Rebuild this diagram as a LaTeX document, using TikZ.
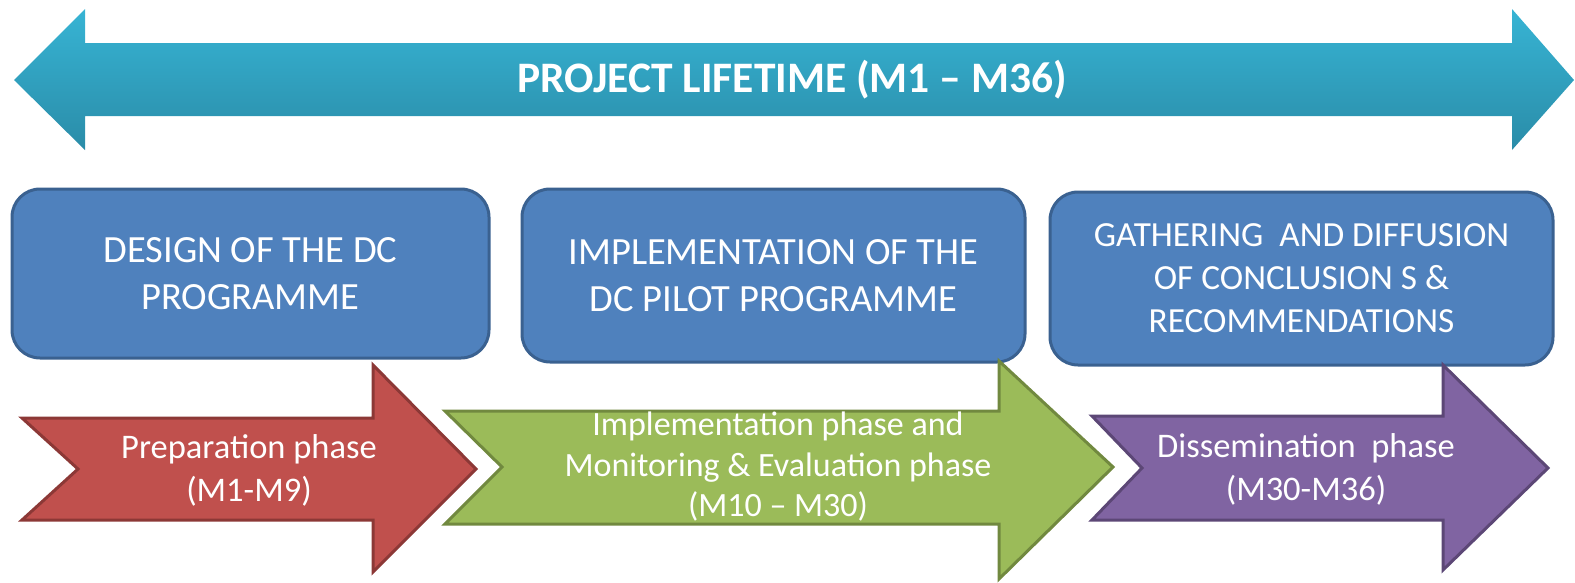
\documentclass[tikz,border=0pt]{standalone}
\usepackage{fontspec}
\setmainfont{Carlito}
\definecolor{LifeTop}{HTML}{37B4D4}
\definecolor{LifeBottom}{HTML}{2A8CA8}
\definecolor{BoxFill}{HTML}{4F81BD}
\definecolor{BoxLine}{HTML}{3A6190}
\definecolor{PrepFill}{HTML}{C0504D}
\definecolor{PrepLine}{HTML}{8C3836}
\definecolor{ImplFill}{HTML}{9BBB59}
\definecolor{ImplLine}{HTML}{71893F}
\definecolor{DissFill}{HTML}{8064A2}
\definecolor{DissLine}{HTML}{5C4776}

\begin{document}
\begin{tikzpicture}[x=1pt,y=1pt,yscale=-1,xscale=1,
		phasebox/.style={draw=BoxLine, fill=BoxFill, line width=3pt, rounded corners=28pt, inner sep=0pt, text=white, align=center, font=\fontsize{38.5}{47}\selectfont},
		phasetext/.style={inner sep=0pt, text=white, align=center, font=\fontsize{34.5}{43}\selectfont}]
		% Set diagram size to the reference, 1575 x 582
		\useasboundingbox (0,0) rectangle (1575,582);

		% Double arrow for the whole project, shaded from top to bottom
		\shade[top color=LifeTop, bottom color=LifeBottom]
		(14,80) -- (85,9) -- (85,43) -- (1512,43) -- (1512,9) -- (1574,80) -- (1512,150) -- (1512,116) -- (85,116) -- (85,150) -- cycle;
		\node[inner sep=0pt, text=white, font=\fontsize{43.5}{52}\bfseries] (lifetime) at (792,80) {PROJECT LIFETIME (M1 -- M36)};

		% The three work packages (rounded boxes)
		\node[phasebox, minimum width=477pt, minimum height=169pt] (design) at (250.5,273.5) {DESIGN OF THE DC\\PROGRAMME};
		\node[phasebox, minimum width=503pt, minimum height=173pt] (implement) at (773.5,275.5) {IMPLEMENTATION OF THE\\DC PILOT PROGRAMME};
		\node[phasebox, minimum width=503pt, minimum height=173pt, font=\fontsize{35.3}{43}\selectfont] (gather) at (1301.5,278.5) {GATHERING~ AND DIFFUSION\\OF CONCLUSION S \&\\RECOMMENDATIONS};

		% Chevron arrows for the phases
		\draw[fill=PrepFill, draw=PrepLine, line width=3pt, line join=miter]
		(22,418) -- (373,418) -- (373,365) -- (476,469) -- (373,572) -- (373,520) -- (22,520) -- (78,469) -- cycle;
		\draw[fill=ImplFill, draw=ImplLine, line width=3pt, line join=miter]
		(445,411) -- (999,411) -- (999,361) -- (1113,467) -- (999,579) -- (999,524) -- (445,524) -- (502,467) -- cycle;
		\draw[fill=DissFill, draw=DissLine, line width=3pt, line join=miter]
		(1092,416) -- (1443,416) -- (1443,365) -- (1548,468) -- (1443,570) -- (1443,520) -- (1092,520) -- (1142,468) -- cycle;

		% Text on the chevrons
		\node[phasetext] (prep) at (249,470) {Preparation phase\\(M1-M9)};
		\node[phasetext, font=\fontsize{34}{40.5}\selectfont] (impl) at (778,467) {Implementation phase and\\Monitoring \& Evaluation phase\\(M10 -- M30)};
		\node[phasetext] (diss) at (1306,469) {Dissemination~ phase\\(M30-M36)};
	\end{tikzpicture}
\end{document}
